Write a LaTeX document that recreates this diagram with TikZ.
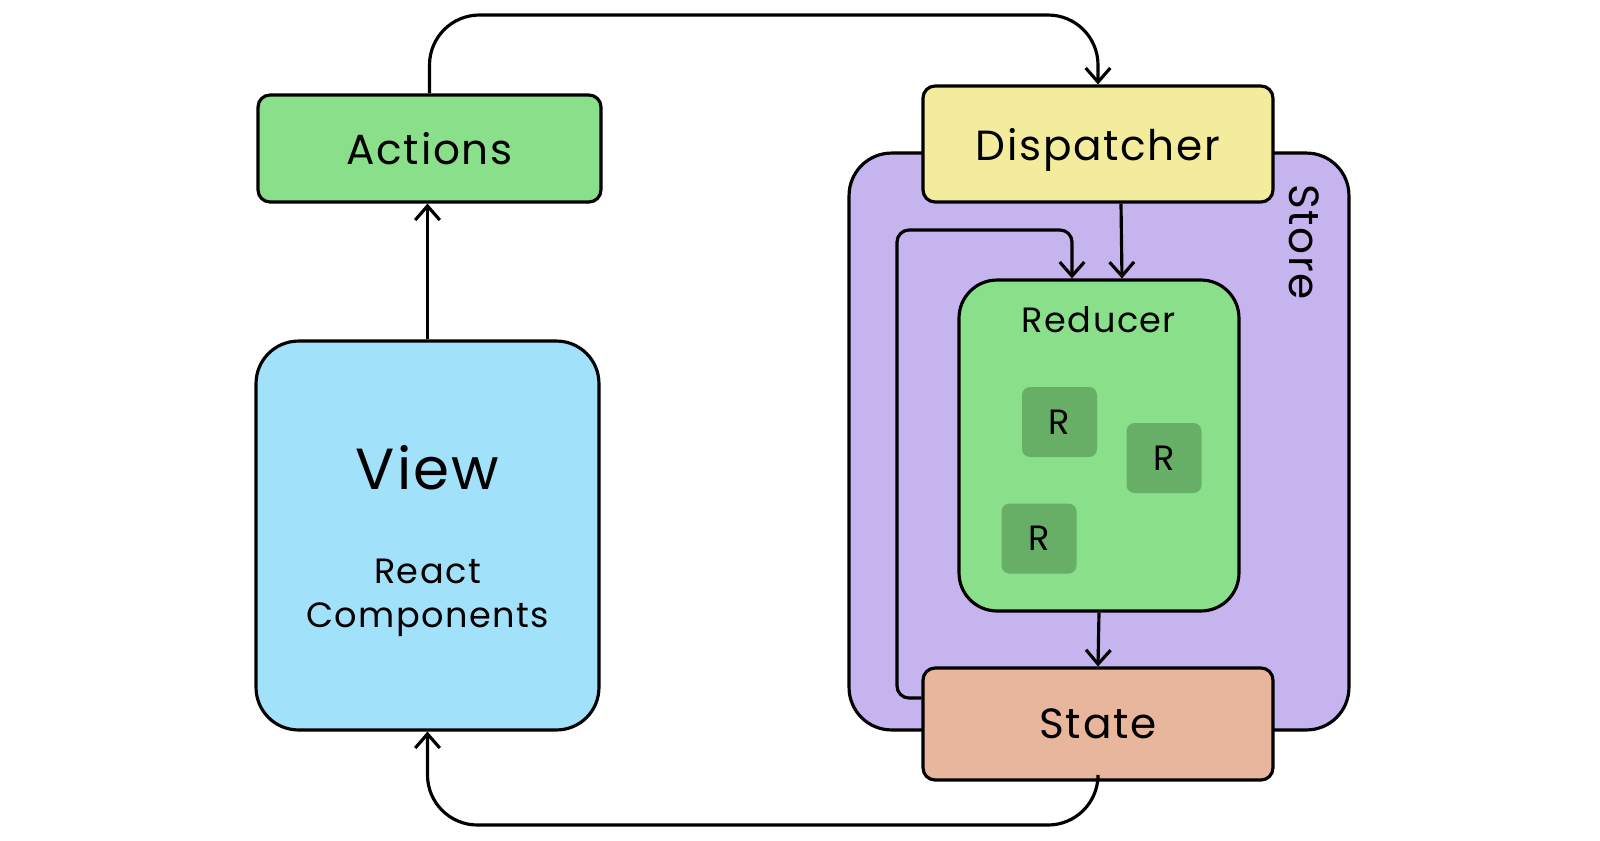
\documentclass[tikz,border=0pt]{standalone}
\usepackage{fontspec}
\setmainfont{Poppins}[LetterSpace=4]
\usepackage{xcolor}
\usepackage{tikz}
\usetikzlibrary{positioning, arrows.meta}

\definecolor{actiongreen}{HTML}{8AE08A}
\definecolor{viewblue}{HTML}{A2E1FA}
\definecolor{dispyellow}{HTML}{F2EC9C}
\definecolor{storepurple}{HTML}{C6B4EF}
\definecolor{statepeach}{HTML}{E8B69C}
\definecolor{rgreen}{HTML}{67AF67}

\newcommand{\boxfont}{\fontsize{24}{28}\selectfont}
\newcommand{\viewfont}{\fontsize{33}{38}\selectfont}
\newcommand{\smallfont}{\fontsize{20}{25}\selectfont}
\newcommand{\rfont}{\fontsize{20}{24}\selectfont}

\begin{document}
\begin{tikzpicture}[
		x=0.02cm, y=-0.02cm,
		line width=1.8pt,
		>={Straight Barb[length=8pt, width=14pt]},
		box/.style={rectangle, draw, rounded corners=0.24cm, inner sep=0pt, fill=#1, font=\boxfont, text depth=0pt},
		bigbox/.style={rectangle, draw, rounded corners=0.85cm, inner sep=0pt, fill=#1},
		rbox/.style={rectangle, rounded corners=0.16cm, fill=rgreen, minimum width=1.5cm, minimum height=1.4cm, font=\rfont}
		]
		
		\useasboundingbox (0,0) rectangle (1600,840);
		
		% Store in the back
		\node[bigbox=storepurple, minimum width=10cm, minimum height=11.54cm] (store) at (1099,441.5) {};
		\node[font=\boxfont, rotate=-90] (storelabel) at (1304,242) {Store};
		
		% Left column
		\node[box=actiongreen, minimum width=6.86cm, minimum height=2.14cm] (actions) at (429.5,148.5) {Actions};
		\node[bigbox=viewblue, minimum width=6.86cm, minimum height=7.78cm,
			label={[anchor=center, yshift=1.35cm, font=\viewfont]center:View},
			label={[anchor=center, yshift=-1.25cm, font=\smallfont, align=center]center:React\\Components}] (view) at (427.5,535.5) {};
		
		% Right column
		\node[box=dispyellow, minimum width=7cm, minimum height=2.32cm] (dispatcher) at (1098,144) {Dispatcher};
		\node[bigbox=actiongreen, rounded corners=0.76cm, minimum width=5.6cm, minimum height=6.62cm,
			label={[anchor=center, yshift=-0.82cm, font=\smallfont]north:Reducer}] (reducer) at (1099,445.5) {};
		\node[box=statepeach, minimum width=7cm, minimum height=2.24cm] (state) at (1098,724) {State};
		
		% Reducers inside
		\node[rbox] (r1) at (1059.5,422) {R};
		\node[rbox] (r2) at (1164,458) {R};
		\node[rbox] (r3) at (1039,538.5) {R};
		
		% Connectors
		\coordinate (top) at (0,15);
		\coordinate (bottom) at (0,825);
		\coordinate (loopleft) at (897,230);
		
		\draw[->] (view.north) -- (view.north |- actions.south);
		\draw[->, rounded corners=1cm] (actions.north) |- (top -| dispatcher.north) -- (dispatcher.north);
		\draw[->] ([xshift=0.46cm]dispatcher.south) -- ([xshift=0.46cm]reducer.north);
		\draw[->] (reducer.south) -- (state.north);
		\draw[->, rounded corners=0.24cm] ([yshift=0.52cm]state.west) -| (loopleft) -| ([xshift=-0.54cm]reducer.north);
		\draw[->, rounded corners=1cm] (state.south) |- (bottom -| view.south) -- (view.south);
		
	\end{tikzpicture}
\end{document}
